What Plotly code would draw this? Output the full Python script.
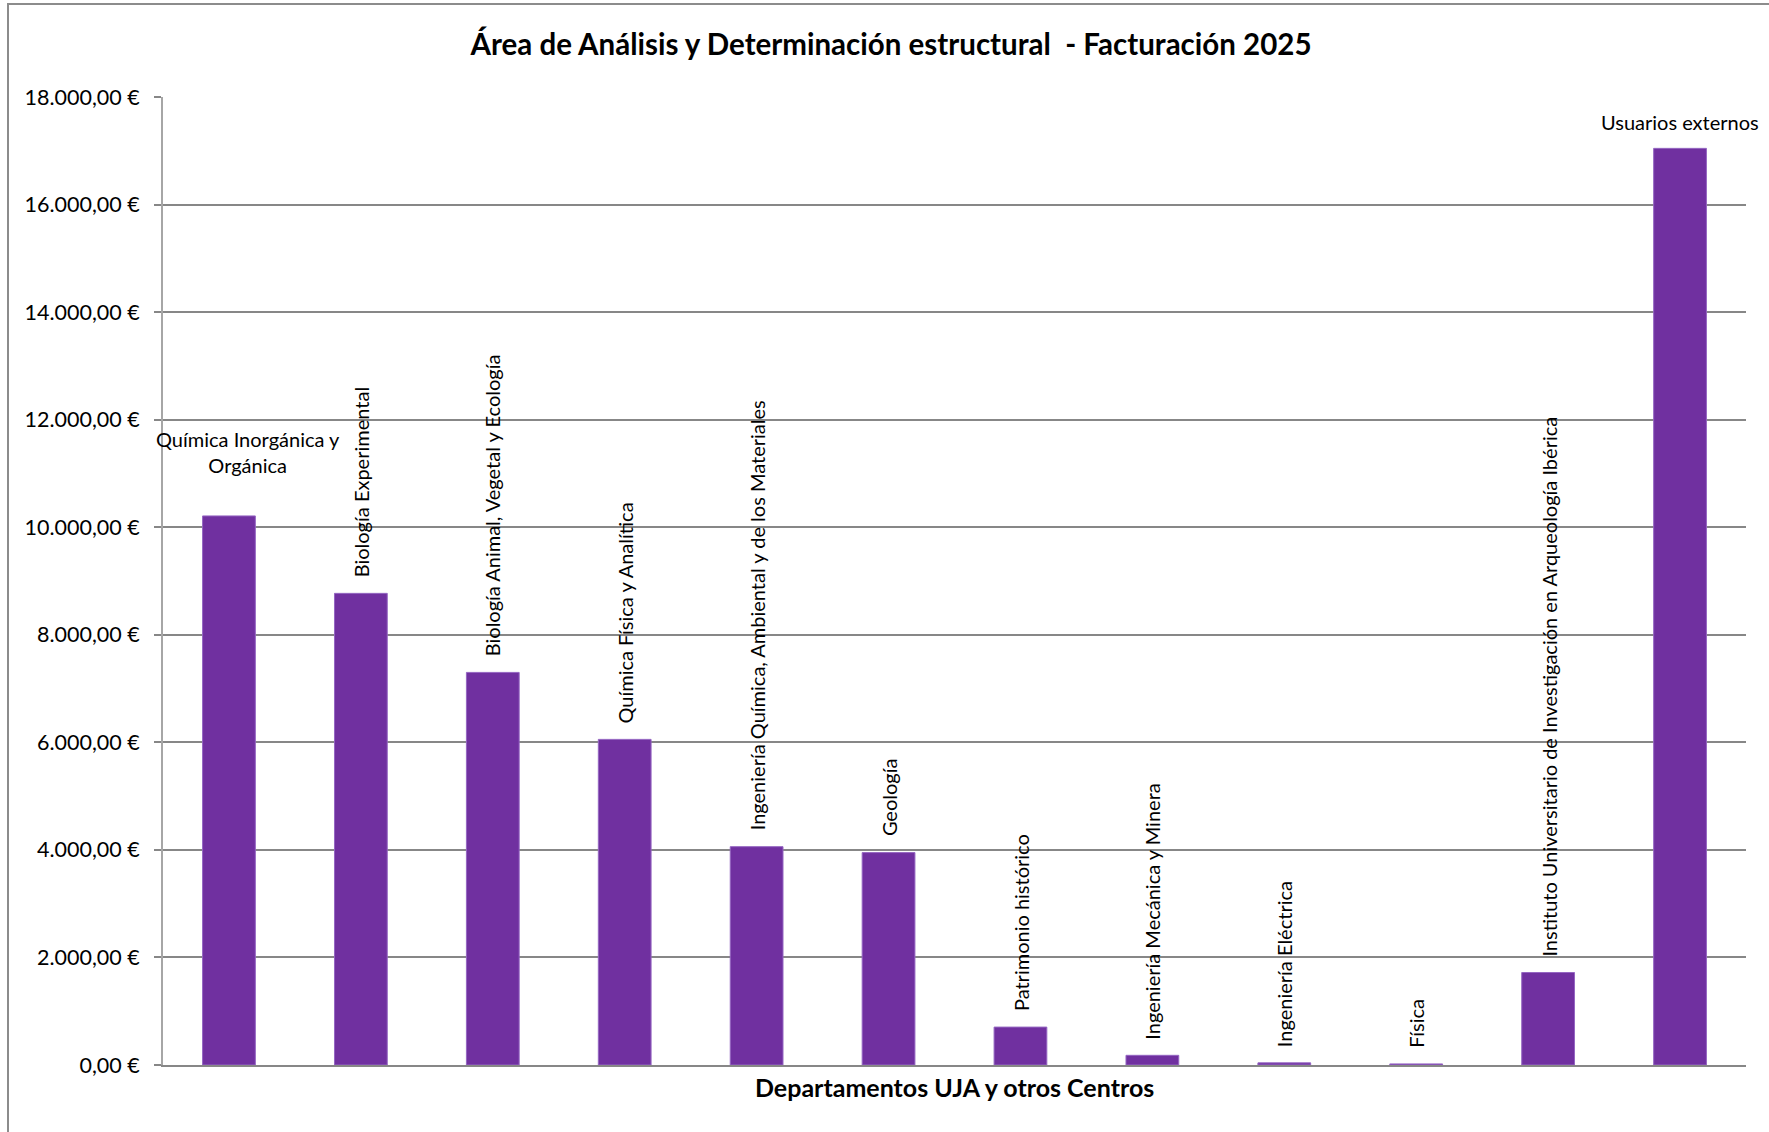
import plotly.graph_objects as go

# Billing per department (EUR), 2025
departamentos = [
    "Química Inorgánica y Orgánica",
    "Biología Experimental",
    "Biología Animal, Vegetal y Ecología",
    "Química Física y Analítica",
    "Ingeniería Química, Ambiental y de los Materiales",
    "Geología",
    "Patrimonio histórico",
    "Ingeniería Mecánica y Minera",
    "Ingeniería Eléctrica",
    "Física",
    "Instituto Universitario de Investigación en Arqueología Ibérica",
    "Usuarios externos",
]
facturacion = [10210, 8770, 7300, 6055, 4060, 3950, 705, 180, 40, 20, 1720, 17045]

# Label text shown above each bar and its orientation
etiquetas = [
    "Química Inorgánica y<br>Orgánica",
    "Biología Experimental",
    "Biología Animal, Vegetal y Ecología",
    "Química Física y Analítica",
    "Ingeniería Química, Ambiental y de los Materiales",
    "Geología",
    "Patrimonio histórico",
    "Ingeniería Mecánica y Minera",
    "Ingeniería Eléctrica",
    "Física",
    "Instituto Universitario de Investigación en Arqueología Ibérica",
    "Usuarios externos",
]
angulos = [0, -90, -90, -90, -90, -90, -90, -90, -90, -90, -90, 0]

ticks_y = [0, 2000, 4000, 6000, 8000, 10000, 12000, 14000, 16000, 18000]
ticks_y_texto = ["0,00 €", "2.000,00 €", "4.000,00 €", "6.000,00 €", "8.000,00 €",
                 "10.000,00 €", "12.000,00 €", "14.000,00 €", "16.000,00 €", "18.000,00 €"]

titulo = "Área de Análisis y Determinación estructural  - Facturación 2025"
titulo_x = "Departamentos UJA y otros Centros"

FONT = "Lato, 'Open Sans', sans-serif"
PURPLE = "#7030A0"
GRID = "#878787"

fig = go.Figure(
    go.Bar(
        x=departamentos,
        y=facturacion,
        marker=dict(color=PURPLE, line=dict(color="#9566c2", width=1)),
        hoverinfo="x+y",
    )
)

annotations = []
for i, (cat, val, txt, ang) in enumerate(zip(departamentos, facturacion, etiquetas, angulos)):
    annotations.append(dict(
        x=cat, y=val, xref="x", yref="y",
        text=txt, textangle=ang, showarrow=False,
        xanchor="center", yanchor="bottom",
        yshift=14 if ang else (37 if i == 0 else 12),
        xshift=19 if i == 0 else 0,
        font=dict(family=FONT, size=20, color="black"),
        align="center",
    ))

annotations.append(dict(
    text=f"<b>{titulo_x}</b>", xref="paper", yref="paper",
    x=0.5, y=-0.0225, xanchor="center", yanchor="middle", showarrow=False,
    font=dict(family=FONT, size=25, color="black"),
))

fig.update_layout(
    width=1769, height=1132,
    margin=dict(l=163, r=23, t=97, b=67),
    paper_bgcolor="white", plot_bgcolor="white",
    showlegend=False,
    bargap=0.6,
    title=dict(
        text=f"<b>{titulo}</b>",
        x=891 / 1769, xanchor="center",
        y=1 - 45 / 1132, yanchor="middle",
        font=dict(family=FONT, size=29.5, color="black"),
    ),
    xaxis=dict(
        range=[-0.5, len(departamentos) - 0.5],
        showticklabels=False, ticks="",
        showline=True, linecolor=GRID, linewidth=2,
        showgrid=False, zeroline=False,
    ),
    yaxis=dict(
        range=[0, 18000],
        tickvals=ticks_y, ticktext=ticks_y_texto,
        tickfont=dict(family=FONT, size=21.5, color="black"),
        ticks="outside", ticklen=7, tickcolor=GRID, tickwidth=1.5,
        ticklabelstandoff=10,
        showline=True, linecolor="#a6a6a6", linewidth=2,
        showgrid=True, gridcolor=GRID, gridwidth=2,
        zeroline=False,
    ),
    annotations=annotations,
    shapes=[dict(
        type="rect", xref="paper", yref="paper",
        x0=(8 - 163) / 1583, x1=1.2, y0=-0.2, y1=(1065 - 4) / 968,
        line=dict(color="#8c8c8c", width=2), fillcolor="rgba(0,0,0,0)",
        layer="below",
    )],
)

fig.write_html("out.html")
